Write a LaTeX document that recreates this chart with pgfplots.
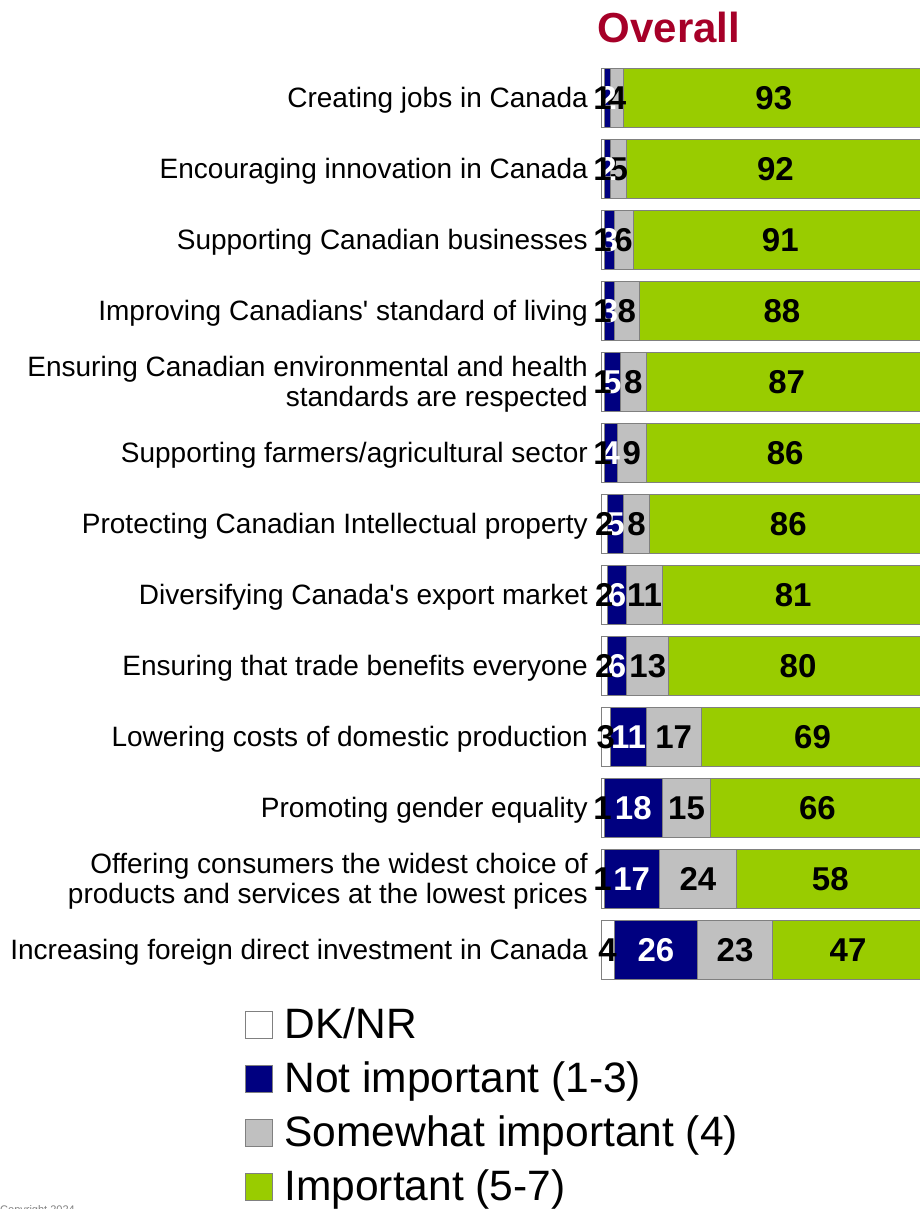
\documentclass[border=0pt]{standalone}
\usepackage{pgfplots}
\pgfplotsset{compat=1.18}
\usepackage{pgfplotstable}
\usepackage{fontspec}
\setmainfont{Liberation Sans}

\definecolor{notimp}{RGB}{0,0,128}
\definecolor{somewhat}{RGB}{192,192,192}
\definecolor{imp}{RGB}{153,204,0}
\definecolor{titlered}{RGB}{166,0,40}
\definecolor{edge}{RGB}{128,128,128}

% DK/NR, Not important (1-3), Somewhat important (4), Important (5-7)
\pgfplotstableread{
row dk ni sw imp
0  1  2  4 93
1  1  2  5 92
2  1  3  6 91
3  1  3  8 88
4  1  5  8 87
5  1  4  9 86
6  2  5  8 86
7  2  6 11 81
8  2  6 13 80
9  3 11 17 69
10 1 18 15 66
11 1 17 24 58
12 4 26 23 47
}\ratings

\pgfplotsset{
  seg/.style n args={2}{
    draw=edge, line width=0.8pt, fill=#1,
    nodes near coords={\pgfmathprintnumber[assume math mode=true]{\pgfplotspointmeta}},
    every node near coord/.append style={
      anchor=center, inner sep=0pt, text=#2,
      font=\bfseries\fontsize{33}{36}\selectfont
    }
  }
}

\begin{document}
\begin{tikzpicture}
\begin{axis}[
  at={(0,0)}, anchor=south west,
  x=3.23pt, y=71pt, y dir=reverse,
  xmin=0, xmax=101, ymin=-0.5, ymax=12.5,
  xbar stacked, bar width=59pt,
  axis x line=none,
  axis y line*=left,
  y axis line style={draw=none},
  major tick length=0pt,
  ytick={0,...,12},
  yticklabels={
    Creating jobs in Canada,
    Encouraging innovation in Canada,
    Supporting Canadian businesses,
    Improving Canadians\textquotesingle{} standard of living,
    {Ensuring Canadian environmental and health\\standards are respected},
    Supporting farmers/agricultural sector,
    Protecting Canadian Intellectual property,
    Diversifying Canada\textquotesingle{}s export market,
    Ensuring that trade benefits everyone,
    Lowering costs of domestic production,
    Promoting gender equality,
    {Offering consumers the widest choice of\\products and services at the lowest prices},
    Increasing foreign direct investment in Canada
  },
  yticklabel style={font=\fontsize{28}{30}\selectfont, align=right, inner sep=0pt, xshift=-13pt, yshift=-2pt},
  legend style={
    at={(axis description cs:-1.102,-0.0222)}, anchor=north west,
    draw=none, fill=none,
    font=\fontsize{42.5}{50}\selectfont,
    row sep=15pt,
    nodes={inner sep=0pt, text height=30pt, text depth=9pt},
    /tikz/every odd column/.append style={column sep=12pt}
  },
  legend cell align=left,
  legend image code/.code={\draw[#1, draw=edge, line width=0.8pt] (0pt,-10.5pt) rectangle (27pt,16.5pt);}
]
\addplot[seg={white}{black}] table[x=dk, y=row] {\ratings};
\addplot[seg={notimp}{white}] table[x=ni, y=row] {\ratings};
\addplot[seg={somewhat}{black}] table[x=sw, y=row] {\ratings};
\addplot[seg={imp}{black}] table[x=imp, y=row] {\ratings};
\legend{DK/NR, Not important (1-3), Somewhat important (4), Important (5-7)}
\end{axis}
\node[font=\bfseries\fontsize{42}{50}\selectfont, text=titlered] at (68pt,957.5pt) {Overall};
\node[anchor=north west, font=\fontsize{11}{13}\selectfont, text=gray, inner sep=0pt] at (-601pt,-220pt) {Copyright 2024};
\pgfresetboundingbox
\path[use as bounding box] (-601pt,-223.5pt) rectangle (318pt,985.5pt);
\end{tikzpicture}
\end{document}
